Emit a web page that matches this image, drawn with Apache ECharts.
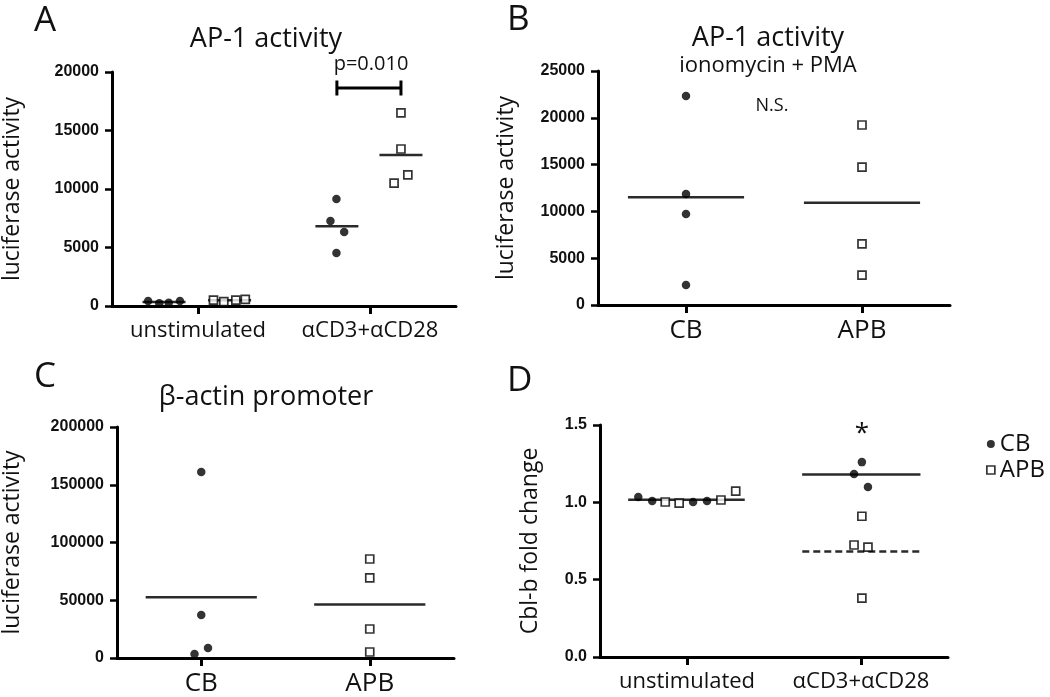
<!DOCTYPE html>
<html>
<head>
<meta charset="utf-8">
<script src="https://cdn.jsdelivr.net/npm/echarts@6/dist/echarts.min.js"></script>
<style>
  html, body { margin: 0; padding: 0; background: #fff; }
  #chart { width: 1050px; height: 697px; }
</style>
</head>
<body>
<div id="chart"></div>
<script>
// ---------------- data ----------------
const catsA = ['unstimulated', 'αCD3+αCD28'];
const catsB = ['CB', 'APB'];
const catsC = ['CB', 'APB'];
const catsD = ['unstimulated', 'αCD3+αCD28'];

const yTicksA = [0, 20000, 5000];     // min, max, interval
const yTicksB = [0, 25000, 5000];
const yTicksC = [0, 200000, 50000];
const yTicksD = [0, 1.5, 0.5];

// Panel A: AP-1 activity (luciferase)
const A_CB_unstim  = [430, 230, 280, 430];
const A_APB_unstim = [500, 380, 500, 570];
const A_CB_stim    = [9150, 7270, 6330, 4530];
const A_APB_stim   = [16500, 13420, 11200, 10510];
const pValueText = 'p=0.010';
const pBracketLevel = 18630;

// Panel B: AP-1 activity, ionomycin + PMA
const B_CB  = [22330, 11860, 9720, 2140];
const B_APB = [19230, 14740, 6520, 3200];

// Panel C: beta-actin promoter
const C_CB  = [161000, 37200, 8700, 3500];
const C_APB = [85700, 69300, 25100, 5200];

// Panel D: Cbl-b fold change
const D_CB_unstim  = [1.034, 1.008, 1.002, 1.008];
const D_APB_unstim = [1.002, 0.995, 1.015, 1.073];
const D_CB_stim    = [1.26, 1.183, 1.099];
const D_APB_stim   = [0.91, 0.724, 0.711, 0.381];

// horizontal scatter (jitter) of points around their category, in category units
const jA_CB_unstim  = [-0.58, -0.45, -0.34, -0.21];
const jA_APB_unstim = [0.18, 0.30, 0.44, 0.55];
const jA_CB_stim    = [-0.39, -0.46, -0.30, -0.39];
const jA_APB_stim   = [0.36, 0.36, 0.44, 0.28];
const jB_CB  = [0, 0, 0, 0];
const jB_APB = [0, 0, 0, 0];
const jC_CB  = [0, 0, 0.08, -0.08];
const jC_APB = [0, 0, 0, 0];
const jD_CB_unstim  = [-0.56, -0.40, 0.07, 0.23];
const jD_APB_unstim = [-0.25, -0.09, 0.39, 0.56];
const jD_CB_stim    = [0.01, -0.08, 0.08];
const jD_APB_stim   = [0.01, -0.08, 0.08, 0.01];

// ---------------- helpers ----------------
const catPos = [1, 3];   // category positions on the 0..4 x scale
const mean = a => a.reduce((s, v) => s + v, 0) / a.length;
const avgOff = a => mean(a);

const AXIS_FONT = 'Liberation Sans';
const TEXT_FONT = 'Open Sans';

function grid(left, top, width, height) { return { left, top, width, height, containLabel: false }; }

function xAxis(gi, cats, labelSize, margin) {
  return {
    type: 'value', gridIndex: gi, min: 0, max: 4,
    splitLine: { show: false },
    axisLine: { show: true, lineStyle: { color: '#000', width: 3 } },
    axisTick: { show: true, customValues: catPos, length: 8, lineStyle: { color: '#000', width: 3 } },
    axisLabel: {
      customValues: catPos, margin: margin,
      formatter: v => cats[catPos.indexOf(Math.round(v))] || '',
      fontFamily: TEXT_FONT, fontSize: labelSize, color: '#111'
    }
  };
}

function yAxis(gi, t, name, gap, dec) {
  return {
    type: 'value', gridIndex: gi, min: t[0], max: t[1], interval: t[2],
    name: name, nameLocation: 'middle', nameGap: gap, nameRotate: 90,
    nameTextStyle: { fontFamily: TEXT_FONT, fontSize: 23, color: '#111' },
    splitLine: { show: false },
    axisLine: { show: true, lineStyle: { color: '#000', width: 3 } },
    axisTick: { show: true, length: 7, lineStyle: { color: '#000', width: 2.5 } },
    axisLabel: {
      margin: 13, fontFamily: AXIS_FONT, fontWeight: 'bold', fontSize: 16, color: '#111',
      formatter: v => dec ? v.toFixed(dec) : String(v)
    }
  };
}

function pts(gi, name, ci, values, jit, filled) {
  return {
    type: 'scatter', name: name, xAxisIndex: gi, yAxisIndex: gi, z: 5,
    symbol: filled ? 'circle' : 'rect',
    symbolSize: filled ? 8.5 : 8,
    itemStyle: filled ? { color: '#000' } : { color: '#fff', borderColor: '#000', borderWidth: 1.7 },
    data: values.map((v, i) => [catPos[ci] + jit[i], v])
  };
}

function meanLine(gi, ci, values, jit, hw, dashed) {
  const c = catPos[ci] + avgOff(jit);
  const m = mean(values);
  return {
    type: 'line', name: 'mean', xAxisIndex: gi, yAxisIndex: gi, z: 3,
    symbol: 'none', silent: true,
    lineStyle: { color: '#2a2a2a', width: 2.5, type: dashed ? [7, 4] : 'solid' },
    data: [[c - hw, m], [c + hw, m]]
  };
}

function seg(gi, p1, p2) {
  return {
    type: 'line', name: 'bracket', xAxisIndex: gi, yAxisIndex: gi, z: 4,
    symbol: 'none', silent: true,
    lineStyle: { color: '#000', width: 3 },
    data: [p1, p2]
  };
}

// bracket across the two stimulated groups in panel A
const bxL = catPos[1] + avgOff(jA_CB_stim);
const bxR = catPos[1] + avgOff(jA_APB_stim);
const capH = 640;

function txt(x, y, text, size, align, extra) {
  return {
    type: 'text', x: x, y: y, silent: true,
    style: Object.assign({
      text: text, fill: '#111',
      font: size + "px '" + TEXT_FONT + "'",
      align: align || 'center', verticalAlign: 'middle'
    }, extra || {})
  };
}

const option = {
  animation: false,
  backgroundColor: '#fff',
  grid: [
    grid(106, 72, 350, 234),
    grid(598, 71, 352, 234),
    grid(106, 427, 348, 231),
    grid(600, 425, 348, 232)
  ],
  xAxis: [
    xAxis(0, catsA, 22, 14),
    xAxis(1, catsB, 26, 13),
    xAxis(2, catsC, 26, 13),
    xAxis(3, catsD, 22, 14)
  ],
  yAxis: [
    yAxis(0, yTicksA, 'luciferase activity', 88, 0),
    yAxis(1, yTicksB, 'luciferase activity', 80, 0),
    yAxis(2, yTicksC, 'luciferase activity', 93, 0),
    yAxis(3, yTicksD, 'Cbl-b fold change', 58, 1)
  ],
  legend: {
    data: ['CB', 'APB'], orient: 'vertical', left: 981, top: 427,
    itemWidth: 8, itemHeight: 8, itemGap: 2,
    selectedMode: false,
    itemStyle: { borderWidth: 1.7 },
    textStyle: { fontFamily: TEXT_FONT, fontSize: 24, lineHeight: 24, color: '#111' }
  },
  series: [
    // A
    meanLine(0, 0, A_CB_unstim, jA_CB_unstim, 0.25, false),
    meanLine(0, 0, A_APB_unstim, jA_APB_unstim, 0.25, false),
    meanLine(0, 1, A_CB_stim, jA_CB_stim, 0.25, false),
    meanLine(0, 1, A_APB_stim, jA_APB_stim, 0.25, false),
    pts(0, 'CB', 0, A_CB_unstim, jA_CB_unstim, true),
    pts(0, 'APB', 0, A_APB_unstim, jA_APB_unstim, false),
    pts(0, 'CB', 1, A_CB_stim, jA_CB_stim, true),
    pts(0, 'APB', 1, A_APB_stim, jA_APB_stim, false),
    seg(0, [bxL, pBracketLevel], [bxR, pBracketLevel]),
    seg(0, [bxL, pBracketLevel - capH], [bxL, pBracketLevel + capH]),
    seg(0, [bxR, pBracketLevel - capH], [bxR, pBracketLevel + capH]),
    // B
    meanLine(1, 0, B_CB, jB_CB, 0.66, false),
    meanLine(1, 1, B_APB, jB_APB, 0.66, false),
    pts(1, 'CB', 0, B_CB, jB_CB, true),
    pts(1, 'APB', 1, B_APB, jB_APB, false),
    // C
    meanLine(2, 0, C_CB, jC_CB, 0.66, false),
    meanLine(2, 1, C_APB, jC_APB, 0.66, false),
    pts(2, 'CB', 0, C_CB, jC_CB, true),
    pts(2, 'APB', 1, C_APB, jC_APB, false),
    // D
    meanLine(3, 0, D_CB_unstim.concat(D_APB_unstim), jD_CB_unstim.concat(jD_APB_unstim), 0.67, false),
    meanLine(3, 1, D_CB_stim, jD_CB_stim, 0.68, false),
    meanLine(3, 1, D_APB_stim, jD_APB_stim, 0.68, true),
    pts(3, 'CB', 0, D_CB_unstim, jD_CB_unstim, true),
    pts(3, 'APB', 0, D_APB_unstim, jD_APB_unstim, false),
    pts(3, 'CB', 1, D_CB_stim, jD_CB_stim, true),
    pts(3, 'APB', 1, D_APB_stim, jD_APB_stim, false)
  ],
  graphic: [
    txt(34, 21, 'A', 35, 'left'),
    txt(507, 20, 'B', 35, 'left'),
    txt(34, 377, 'C', 35, 'left'),
    txt(507, 381, 'D', 35, 'left'),
    txt(266, 39, 'AP-1 activity', 27),
    txt(768, 38, 'AP-1 activity', 27),
    txt(768, 66, 'ionomycin + PMA', 22),
    txt(266, 397, 'β-actin promoter', 27),
    txt(371, 64, pValueText, 20),
    txt(772, 106, 'N.S.', 18),
    txt(862, 434, '*', 26)
  ]
};

const chart = echarts.init(document.getElementById('chart'), null, { renderer: 'canvas' });
chart.setOption(option);
</script>
</body>
</html>
